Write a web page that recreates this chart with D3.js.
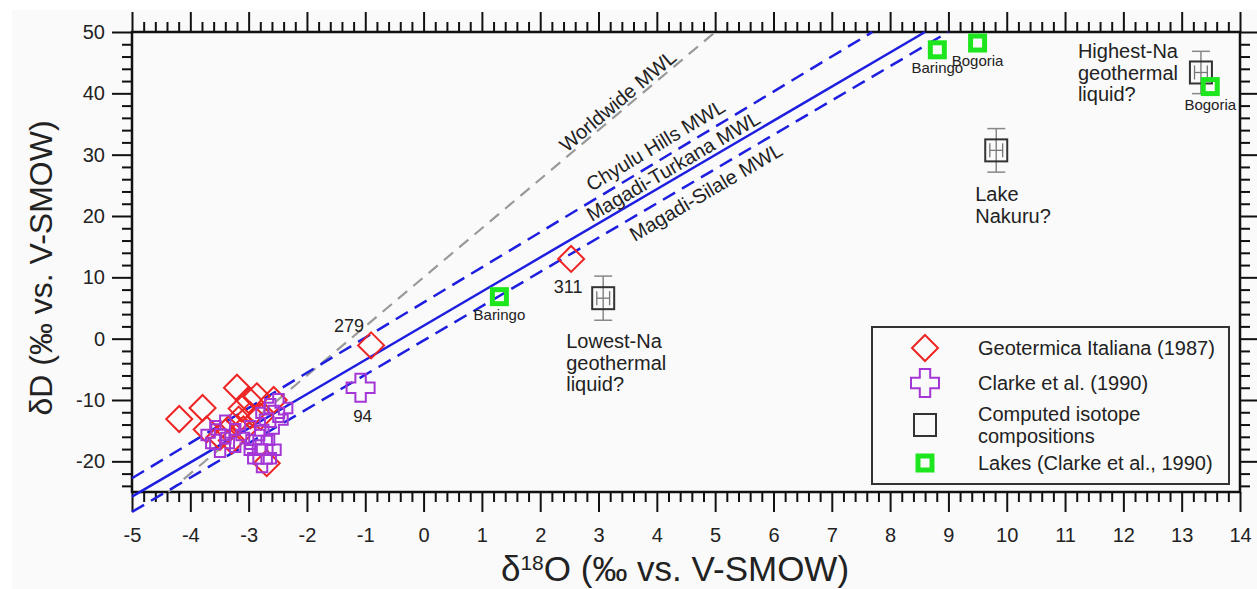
<!DOCTYPE html>
<html><head><meta charset="utf-8">
<script src="https://cdn.jsdelivr.net/npm/d3@7"></script>
<style>
body{margin:0;background:#fff;}
svg{display:block;font-family:"Liberation Sans",Arial,Helvetica,sans-serif;}
</style>
</head><body>
<svg id="chart" width="1257" height="589"></svg>
<script>
// ---------- data ----------
const xTickValues = [-5,-4,-3,-2,-1,0,1,2,3,4,5,6,7,8,9,10,11,12,13,14];
const yTickValues = [50,40,30,20,10,0,-10,-20];

// Geotermica Italiana (1987) [δ18O, δD]
const geotermica = [[-4.19,-13.1],[-3.79,-11.3],[-3.20,-8.0],[-3.00,-10.0],[-2.86,-9.4],[-2.57,-10.0],
  [-3.12,-11.4],[-3.72,-14.8],[-3.49,-16.0],[-3.35,-14.8],[-3.17,-13.2],[-2.97,-12.5],[-2.80,-12.7],
  [-2.69,-20.3],[-3.29,-16.6],[-3.09,-14.8],[-0.90,-1.1],[2.53,13.0]];
// Clarke et al. (1990)
const clarke = [[-3.57,-15.7],[-3.40,-14.8],[-3.49,-17.0],[-3.23,-16.2],[-2.97,-15.7],[-2.80,-16.5],
  [-2.63,-12.1],[-2.49,-11.3],[-2.83,-18.1],[-2.69,-18.1],[-2.77,-19.5],[-2.57,-13.2],[-1.08,-8.0]];
// Computed isotope compositions [δ18O, δD, err18O, errD]
const computed = [[3.08,6.6,0.11,3.6],[9.82,30.7,0.11,3.55],[13.33,43.4,0.11,3.45]];
// Lakes (Clarke et al., 1990)
const lakes = [[1.30,6.85],[8.81,47.1],[9.50,48.2],[13.49,41.1]];
const lakeNames = ["Baringo","Baringo","Bogoria","Bogoria"];

// meteoric water lines: slope, intercept
const mwlNames = ["Worldwide MWL","Chyulu Hills MWL","Magadi-Turkana MWL","Magadi-Silale MWL"];
const mwlSlopes = [8, 5.73, 5.57, 5.59];
const mwlIntercepts = [10, 5.9, 2.1, -0.3];

const pointLabels = [["279",-0.90,-1.1],["311",2.53,13.0],["94",-1.08,-8.0]];
const noteTexts = [["Lowest-Na","geothermal","liquid?"],["Lake","Nakuru?"],["Highest-Na","geothermal","liquid?"]];

const legendLabels = [["Geotermica Italiana (1987)"],["Clarke et al. (1990)"],["Computed isotope","compositions"],["Lakes (Clarke et al., 1990)"]];

// ---------- setup ----------
const svg = d3.select("#chart");
const L = 132, R = 1240, T = 32, B = 492;
const x = d3.scaleLinear().domain([-5,14]).range([L,R]);
const y = d3.scaleLinear().domain([-25,50]).range([B,T]);

const RED = "#ee2424", PURPLE = "#a436d6", GREEN = "#1ee61e", BLUE = "#1e1ee0", TXT = "#222";

svg.append("rect").attr("x",12).attr("y",10).attr("width",1257).attr("height",589).attr("fill","#fafafa");

// ---------- axes ----------
function styleAxis(g){
  g.select(".domain").remove();
  g.selectAll(".tick line").attr("stroke","#111").attr("stroke-width",2);
  g.selectAll(".tick text").attr("fill",TXT).attr("font-size",20).attr("font-family","Liberation Sans, Arial, sans-serif");
}
const isInt = v => Math.abs(v - Math.round(v)) < 1e-6;
const xMinor = d3.range(-5,14.0001,0.2).map(v=>+v.toFixed(2)).filter(v=>!isInt(v));
const yMinor = d3.range(-24,50,2).filter(v=>v%10!==0);
const fmt = d => String(d);

svg.append("g").attr("transform",`translate(0,${B})`)
  .call(d3.axisBottom(x).tickValues(xTickValues).tickSize(20).tickSizeOuter(0).tickPadding(16).tickFormat(fmt)).call(styleAxis);
svg.append("g").attr("transform",`translate(0,${B})`)
  .call(d3.axisBottom(x).tickValues(xMinor).tickSize(10).tickSizeOuter(0).tickFormat("")).call(styleAxis);
svg.append("g").attr("transform",`translate(0,${T})`)
  .call(d3.axisTop(x).tickValues(xTickValues).tickSize(20).tickSizeOuter(0).tickFormat("")).call(styleAxis);
svg.append("g").attr("transform",`translate(0,${T})`)
  .call(d3.axisTop(x).tickValues(xMinor).tickSize(10).tickSizeOuter(0).tickFormat("")).call(styleAxis);
svg.append("g").attr("transform",`translate(${L},0)`)
  .call(d3.axisLeft(y).tickValues(yTickValues).tickSize(20).tickSizeOuter(0).tickPadding(7).tickFormat(fmt)).call(styleAxis);
svg.append("g").attr("transform",`translate(${L},0)`)
  .call(d3.axisLeft(y).tickValues(yMinor).tickSize(10).tickSizeOuter(0).tickFormat("")).call(styleAxis);
svg.append("g").attr("transform",`translate(${R},0)`)
  .call(d3.axisRight(y).tickValues(yTickValues).tickSize(20).tickSizeOuter(0).tickFormat("")).call(styleAxis);
svg.append("g").attr("transform",`translate(${R},0)`)
  .call(d3.axisRight(y).tickValues(yMinor).tickSize(10).tickSizeOuter(0).tickFormat("")).call(styleAxis);

// frame
svg.append("rect").attr("x",L).attr("y",T).attr("width",R-L).attr("height",B-T)
  .attr("fill","none").attr("stroke","#111").attr("stroke-width",2.5);

// axis titles
const xt = svg.append("text").attr("x",675).attr("y",581).attr("text-anchor","middle")
  .attr("font-size",35).attr("fill",TXT);
xt.append("tspan").text("δ");
xt.append("tspan").attr("font-size",21).attr("dy",-11).text("18");
xt.append("tspan").attr("dy",11).text("O (‰ vs. V-SMOW)");
svg.append("text").attr("transform","translate(52,268) rotate(-90)").attr("text-anchor","middle")
  .attr("font-size",32).attr("fill",TXT).text("δD (‰ vs. V-SMOW)");

// ---------- MWL lines ----------
const mwlStyles = [
  {stroke:"#999", dash:"12,8", w:2.2},
  {stroke:BLUE, dash:"14,8", w:2.5},
  {stroke:BLUE, dash:null, w:2.5},
  {stroke:BLUE, dash:"14,8", w:2.5}];
const line = d3.line().x(d=>x(d[0])).y(d=>y(d[1]));
mwlSlopes.forEach((m,i)=>{
  const b = mwlIntercepts[i];
  let x0 = -5;
  if (i===0) x0 = (-25-b)/m;
  const x1 = (50-b)/m;
  const p = svg.append("path").attr("d",line([[x0,m*x0+b],[x1,50]]))
    .attr("fill","none").attr("stroke",mwlStyles[i].stroke).attr("stroke-width",mwlStyles[i].w);
  if (mwlStyles[i].dash) p.attr("stroke-dasharray",mwlStyles[i].dash);
});

// MWL labels: anchor δ18O position along line and perpendicular pixel offset (negative = above)
const mwlLabelAt = [3.44, 4.11, 4.38, 4.71];
const mwlLabelOff = [-10, -15, -11.5, 15];
mwlSlopes.forEach((m,i)=>{
  const b = mwlIntercepts[i], xv = mwlLabelAt[i];
  const px = x(xv), py = y(m*xv+b);
  const ang = Math.atan2(y(m*(xv+1)+b)-py, x(xv+1)-px);
  const nx = Math.sin(ang), ny = -Math.cos(ang); // upward normal
  const off = -mwlLabelOff[i];
  svg.append("text")
    .attr("transform",`translate(${px+nx*off},${py+ny*off}) rotate(${ang*180/Math.PI})`)
    .attr("text-anchor","middle").attr("dominant-baseline","central")
    .attr("font-size",20).attr("fill",TXT).text(mwlNames[i]);
});

// ---------- markers ----------
const diamondPath = r => `M0,${-r}L${r},0L0,${r}L${-r},0Z`;
const crossPath = (a,w) => `M${-w},${-a}H${w}V${-w}H${a}V${w}H${w}V${a}H${-w}V${w}H${-a}V${-w}H${-w}Z`;

svg.append("g").selectAll("path").data(geotermica).join("path")
  .attr("transform",d=>`translate(${x(d[0])},${y(d[1])})`)
  .attr("d",diamondPath(13)).attr("fill","none").attr("stroke",RED).attr("stroke-width",2);

svg.append("g").selectAll("path").data(clarke).join("path")
  .attr("transform",d=>`translate(${x(d[0])},${y(d[1])})`)
  .attr("d",crossPath(14,5.2)).attr("fill","none").attr("stroke",PURPLE).attr("stroke-width",2);

// computed with error bars
const cg = svg.append("g").selectAll("g").data(computed).join("g");
cg.append("line").attr("x1",d=>x(d[0])).attr("x2",d=>x(d[0])).attr("y1",d=>y(d[1]-d[3])).attr("y2",d=>y(d[1]+d[3]))
  .attr("stroke","#888").attr("stroke-width",1.5);
cg.append("line").attr("x1",d=>x(d[0])-9).attr("x2",d=>x(d[0])+9).attr("y1",d=>y(d[1]-d[3])).attr("y2",d=>y(d[1]-d[3]))
  .attr("stroke","#888").attr("stroke-width",1.5);
cg.append("line").attr("x1",d=>x(d[0])-9).attr("x2",d=>x(d[0])+9).attr("y1",d=>y(d[1]+d[3])).attr("y2",d=>y(d[1]+d[3]))
  .attr("stroke","#888").attr("stroke-width",1.5);
cg.append("line").attr("x1",d=>x(d[0]-d[2])).attr("x2",d=>x(d[0]+d[2])).attr("y1",d=>y(d[1])).attr("y2",d=>y(d[1]))
  .attr("stroke","#777").attr("stroke-width",1.3);
cg.append("line").attr("x1",d=>x(d[0]-d[2])).attr("x2",d=>x(d[0]-d[2])).attr("y1",d=>y(d[1])-7).attr("y2",d=>y(d[1])+7)
  .attr("stroke","#777").attr("stroke-width",1.3);
cg.append("line").attr("x1",d=>x(d[0]+d[2])).attr("x2",d=>x(d[0]+d[2])).attr("y1",d=>y(d[1])-7).attr("y2",d=>y(d[1])+7)
  .attr("stroke","#777").attr("stroke-width",1.3);
cg.append("rect").attr("x",d=>x(d[0])-11).attr("y",d=>y(d[1])-11).attr("width",22).attr("height",22)
  .attr("fill","none").attr("stroke","#333").attr("stroke-width",2);

// lakes
svg.append("g").selectAll("rect").data(lakes).join("rect")
  .attr("x",d=>x(d[0])-7).attr("y",d=>y(d[1])-7).attr("width",14).attr("height",14)
  .attr("fill","none").attr("stroke",GREEN).attr("stroke-width",5);
svg.append("g").selectAll("text").data(lakes).join("text")
  .attr("x",d=>x(d[0])).attr("y",d=>y(d[1])+23).attr("text-anchor","middle")
  .attr("font-size",15).attr("fill",TXT).text((d,i)=>lakeNames[i]);

// point labels
const plOff = [[-22,-13,18],[-3,34,18],[2,34,17]];
pointLabels.forEach((p,i)=>{
  svg.append("text").attr("x",x(p[1])+plOff[i][0]).attr("y",y(p[2])+plOff[i][1])
    .attr("text-anchor","middle").attr("font-size",plOff[i][2]).attr("fill",TXT).text(p[0]);
});

// notes near computed points
const noteOff = [[-37,50],[-21,51],[-123,-14]];
noteTexts.forEach((lines,i)=>{
  const c = computed[i];
  const t = svg.append("text").attr("font-size",20).attr("fill",TXT);
  lines.forEach((s,j)=>{
    t.append("tspan").attr("x",x(c[0])+noteOff[i][0]).attr("y",y(c[1])+noteOff[i][1]+j*21.5).text(s);
  });
});

// ---------- legend ----------
const lg = svg.append("g");
lg.append("rect").attr("x",872).attr("y",327).attr("width",357).attr("height",157)
  .attr("fill","#fafafa").attr("stroke","#333").attr("stroke-width",2);
const legY = [348,383,425,463];
const symX = 925, txtX = 978;
lg.append("path").attr("transform",`translate(${symX},${legY[0]})`).attr("d",diamondPath(13))
  .attr("fill","none").attr("stroke",RED).attr("stroke-width",2);
lg.append("path").attr("transform",`translate(${symX},${legY[1]})`).attr("d",crossPath(14,5.2))
  .attr("fill","none").attr("stroke",PURPLE).attr("stroke-width",2);
lg.append("rect").attr("x",symX-11).attr("y",legY[2]-11).attr("width",22).attr("height",22)
  .attr("fill","none").attr("stroke","#333").attr("stroke-width",2);
lg.append("rect").attr("x",symX-7).attr("y",legY[3]-7).attr("width",14).attr("height",14)
  .attr("fill","none").attr("stroke",GREEN).attr("stroke-width",5);
legendLabels.forEach((lines,i)=>{
  const t = lg.append("text").attr("font-size",20).attr("fill",TXT);
  const start = legY[i] + 7 - (lines.length-1)*11;
  lines.forEach((s,j)=>t.append("tspan").attr("x",txtX).attr("y",start + j*22).text(s));
});
</script>
</body></html>
